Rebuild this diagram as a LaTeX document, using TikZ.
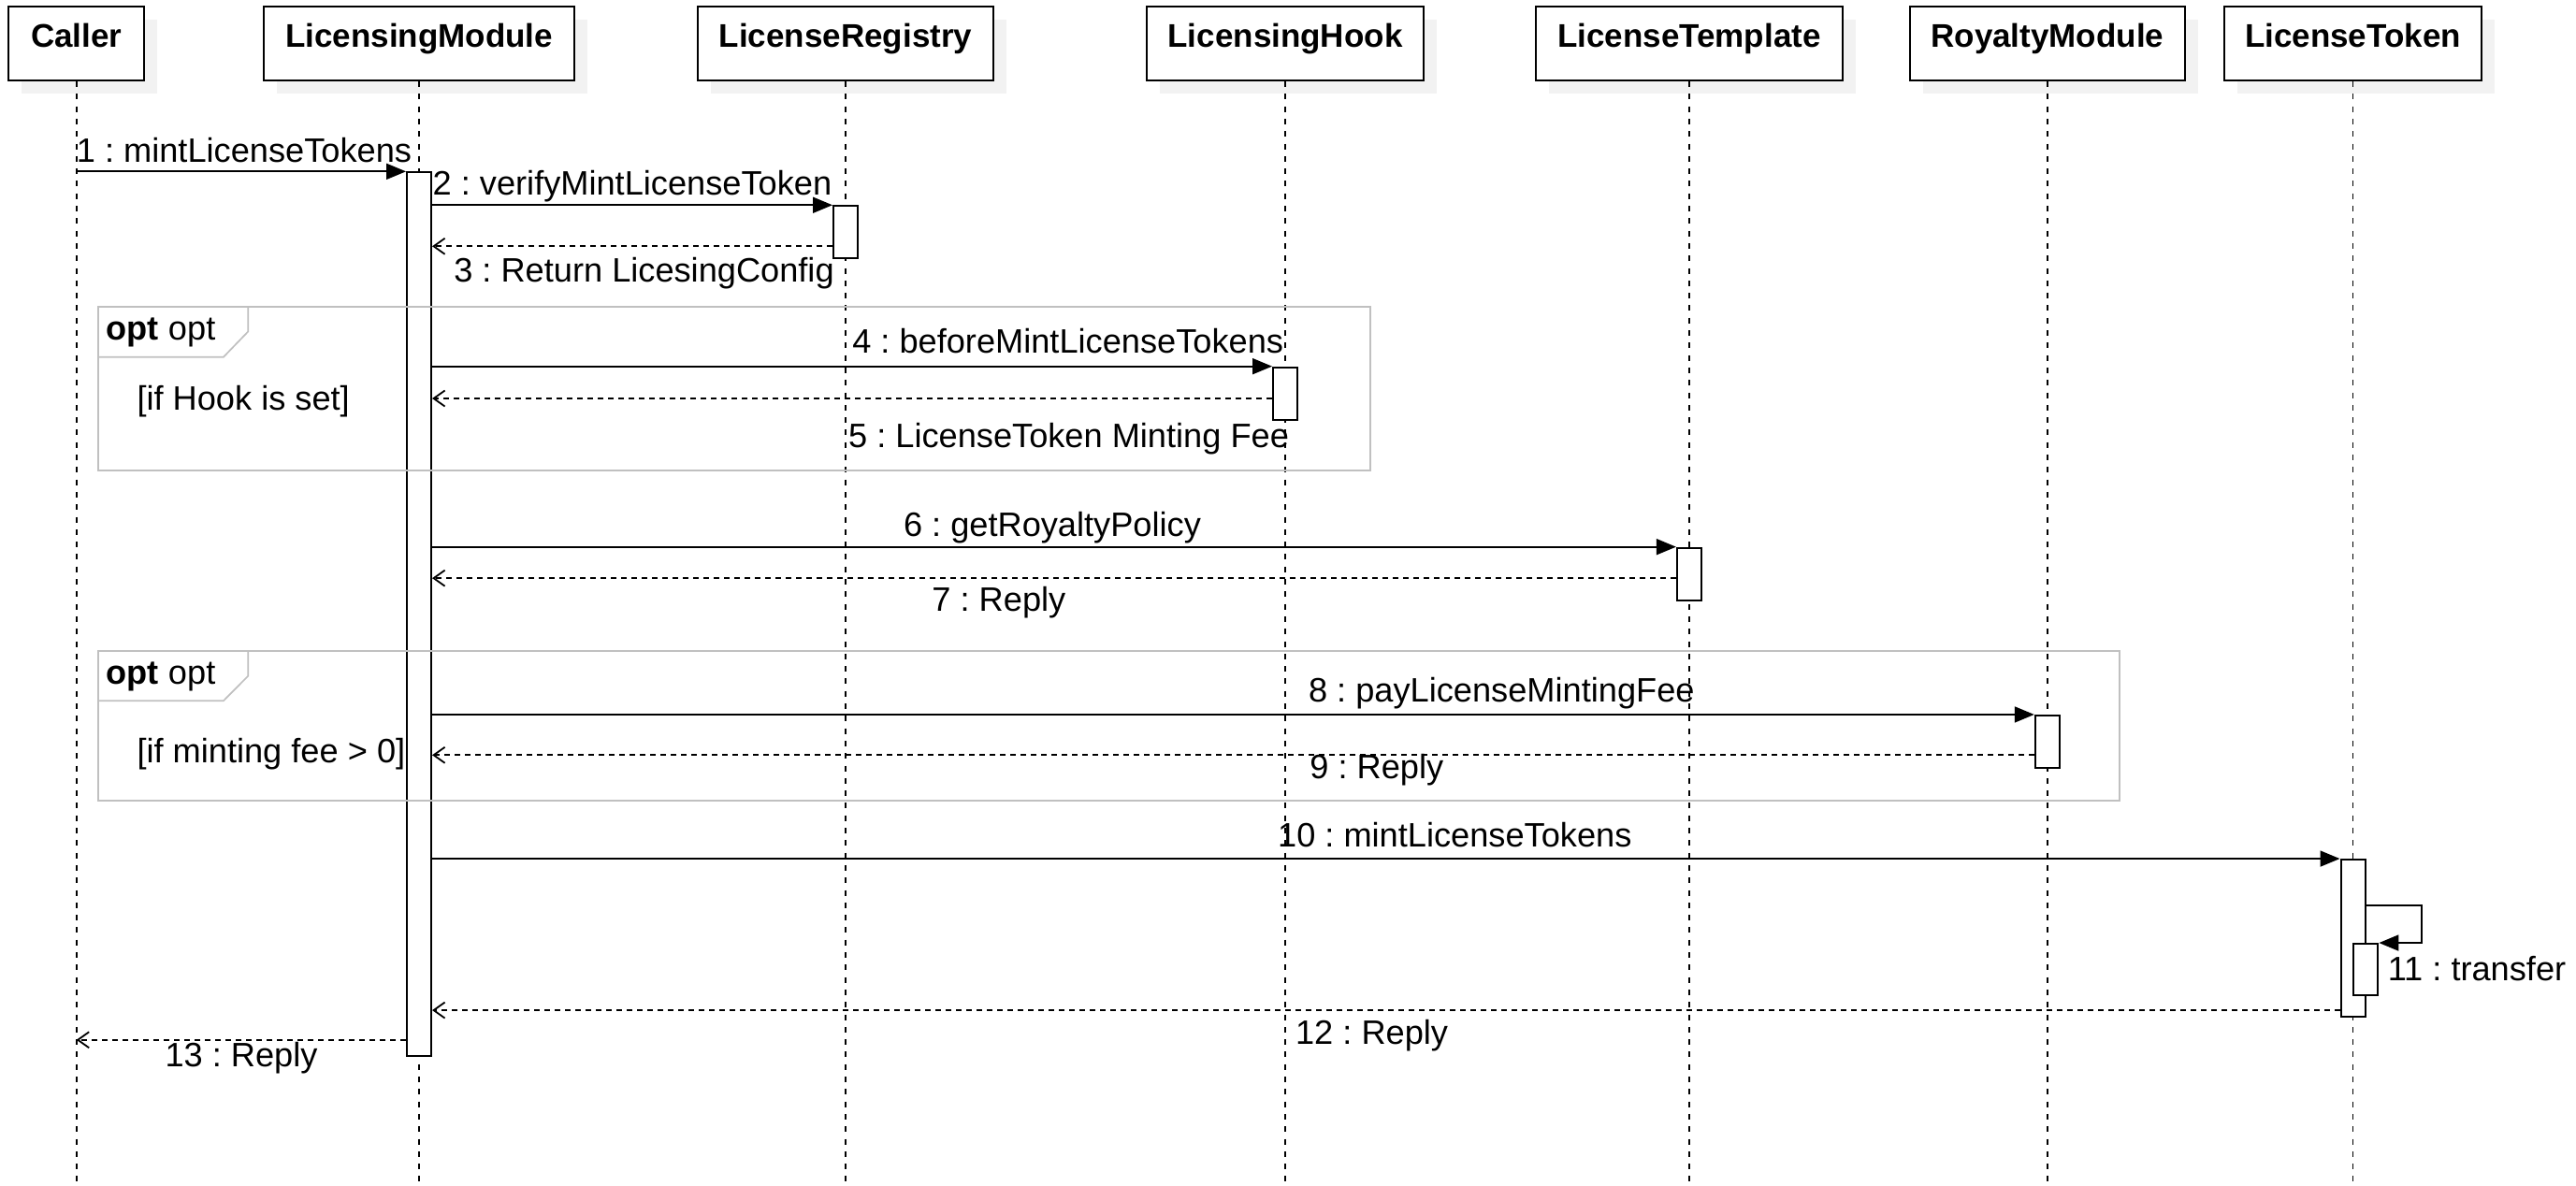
\documentclass[tikz,border=0pt]{standalone}
\usepackage{fontspec}
\setmainfont{Liberation Sans}
\frenchspacing
\usetikzlibrary{arrows.meta,shadows}
\definecolor{framegray}{RGB}{192,192,192}
\definecolor{shadowgray}{RGB}{242,242,242}
\tikzset{
  % participant box
  part/.style={
    draw,
    line width=2pt,
    fill=white,
    minimum height=78.7pt,
    inner sep=0pt,
    text height=8pt,
    text depth=1.2pt,
    font=\fontsize{35}{42}\selectfont\bfseries,
    drop shadow={shadow xshift=14pt, shadow yshift=-14pt, fill=shadowgray, opacity=1}
  },
  % lifeline
  lifeline/.style={line width=1.7pt, dash pattern=on 6pt off 7.3pt},
  % activation bar
  actbar/.style={draw, line width=2pt, fill=white, minimum width=26pt, inner sep=0pt, anchor=north},
  % synchronous call
  call/.style={line width=1.8pt, -{Triangle[length=21pt,width=17pt]}},
  % reply
  ret/.style={line width=1.8pt, dash pattern=on 6pt off 5pt, -{Straight Barb[length=12pt,width=17pt]}},
  % message text
  msg/.style={font=\fontsize{36.2}{43}\selectfont, inner sep=0pt},
  % combined fragment
  fragment/.style={draw=framegray, line width=1.7pt},
}

\begin{document}
\begin{tikzpicture}[x=1.7564pt, y=-1.7611pt]
  \useasboundingbox (0,0) rectangle (1568,720);

  % Participants
  \node[part, minimum width=144.7pt] (caller) at (46.5,26.5) {Caller};
  \node[part, minimum width=332.6pt] (lm) at (255.1,26.5) {LicensingModule};
  \node[part, minimum width=316.6pt] (reg) at (514.7,26.5) {LicenseRegistry};
  \node[part, minimum width=296.6pt] (hook) at (782.3,26.5) {LicensingHook};
  \node[part, minimum width=328.3pt] (tmpl) at (1028.2,26.5) {LicenseTemplate};
  \node[part, minimum width=294.3pt] (roy) at (1246.2,26.5) {RoyaltyModule};
  \node[part, minimum width=275.6pt] (tok) at (1432.2,26.5) {LicenseToken};

  % Lifelines
  \foreach \p in {caller,lm,reg,hook,tmpl,roy,tok}
    \draw[lifeline] (\p.south) -- (\p.south |- 0,720);

  % Activation bars
  \node[actbar, minimum height=944.6pt] (lmAct) at (lm.south |- 0,104.1) {};
  \node[actbar, minimum height=56pt] (regAct) at (reg.south |- 0,124.5) {};
  \node[actbar, minimum height=56pt] (hookAct) at (hook.south |- 0,222.4) {};
  \node[actbar, minimum height=56pt] (tmplAct) at (tmpl.south |- 0,332) {};
  \node[actbar, minimum height=56pt] (royAct) at (roy.south |- 0,433.8) {};
  \node[actbar, minimum height=168pt] (tokAct) at (tok.south |- 0,521.3) {};
  \node[actbar, minimum height=55pt] (tokSub) at (1440.1,572.4) {};

  % opt fragments
  \draw[fragment] (59.8,186.3) rectangle (834,285.6);
  \draw[fragment] (59.8,216.8) -- (136,216.8) -- (151,201.3) -- (151,186.3);
  \node[msg, anchor=base west] (opt1) at (64.6,206.3) {\textbf{opt} opt};
  \node[msg, anchor=base west] (guard1) at (83.3,248.8) {[if Hook is set]};

  \draw[fragment] (59.8,395.2) rectangle (1290,485.9);
  \draw[fragment] (59.8,425.5) -- (136,425.5) -- (151,410.4) -- (151,395.2);
  \node[msg, anchor=base west] (opt2) at (64.6,415.5) {\textbf{opt} opt};
  \node[msg, anchor=base west] (guard2) at (83.3,462.8) {[if minting fee > 0]};

  % Messages
  \draw[call] (caller.south |- 0,104.1) -- (lmAct.north west);
  \node[msg, anchor=base west] (m1) at (46.5,98.4) {1 : mintLicenseTokens};

  \draw[call] (lmAct.east |- regAct.north) -- (regAct.north west);
  \node[msg, anchor=base west] (m2) at (263.3,118.3) {2 : verifyMintLicenseToken};
  \draw[ret] (regAct.west |- 0,149.5) -- (lmAct.east |- 0,149.5);
  \node[msg, anchor=base] (m3) at (392,171.3) {3 : Return LicesingConfig};

  \draw[call] (lmAct.east |- hookAct.north) -- (hookAct.north west);
  \node[msg, anchor=base] (m4) at (650,214.5) {4 : beforeMintLicenseTokens};
  \draw[ret] (hookAct.west |- 0,241.9) -- (lmAct.east |- 0,241.9);
  \node[msg, anchor=base] (m5) at (650.5,271.5) {5 : LicenseToken Minting Fee};

  \draw[call] (lmAct.east |- tmplAct.north) -- (tmplAct.north west);
  \node[msg, anchor=base] (m6) at (640.5,325.5) {6 : getRoyaltyPolicy};
  \draw[ret] (tmplAct.west |- 0,351) -- (lmAct.east |- 0,351);
  \node[msg, anchor=base] (m7) at (608,371) {7 : Reply};

  \draw[call] (lmAct.east |- royAct.north) -- (royAct.north west);
  \node[msg, anchor=base] (m8) at (914,426) {8 : payLicenseMintingFee};
  \draw[ret] (royAct.west |- 0,458.4) -- (lmAct.east |- 0,458.4);
  \node[msg, anchor=base] (m9) at (838,473) {9 : Reply};

  \draw[call] (lmAct.east |- tokAct.north) -- (tokAct.north west);
  \node[msg, anchor=base] (m10) at (885.5,514) {10 : mintLicenseTokens};

  % self call
  \draw[call] (tokAct.east |- 0,549.7) -- ++(34,0) |- (tokSub.north east);
  \node[msg, anchor=base west] (m11) at (1453.3,595.1) {11 : transfer};

  \draw[ret] (tokAct.west |- 0,613.3) -- (lmAct.east |- 0,613.3);
  \node[msg, anchor=base] (m12) at (835,634) {12 : Reply};

  \draw[ret] (lmAct.west |- 0,631.3) -- (caller.south |- 0,631.3);
  \node[msg, anchor=base west] (m13) at (100.4,647.7) {13 : Reply};
\end{tikzpicture}
\end{document}
